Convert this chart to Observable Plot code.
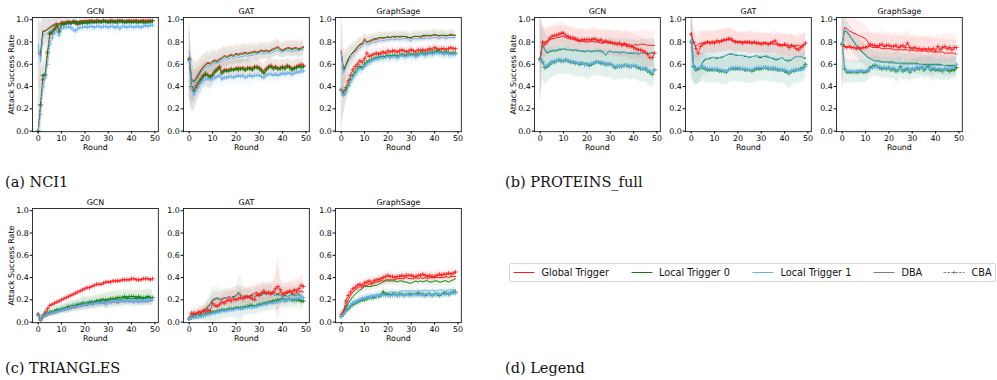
<!DOCTYPE html>
<html><head><meta charset="utf-8">
<script src="https://cdn.jsdelivr.net/npm/d3@7"></script>
<script src="https://cdn.jsdelivr.net/npm/@observablehq/plot@0.6"></script>
<style>
body{margin:0;background:#fff;}
#root{position:relative;width:997px;height:380px;overflow:hidden;font-family:"DejaVu Sans",sans-serif;}
.cap{position:absolute;font-family:"DejaVu Serif",serif;font-size:14.5px;color:#111;white-space:nowrap;line-height:16px;}
#legend{position:absolute;left:509px;top:263px;width:485px;height:17px;border:1px solid #d4d4d4;border-radius:2px;background:#fff;}
.li{position:absolute;top:0;height:17px;font-size:9.7px;line-height:17px;color:#111;white-space:nowrap;}
.li svg{position:absolute;top:0;left:0;}
</style>
</head><body><div id="root"></div>
<script>
// ---------------- data ----------------
const rounds = d3.range(0, 50);
const seriesNames = ["Global Trigger", "Local Trigger 0", "Local Trigger 1"];
const methodNames = ["DBA", "CBA"];
const datasetCaptions = ["(a) NCI1", "(b) PROTEINS_full", "(c) TRIANGLES", "(d) Legend"];
const modelTitles = ["GCN", "GAT", "GraphSage"];
const xTicks = [0, 10, 20, 30, 40, 50];
const yTicks = [0, 0.2, 0.4, 0.6, 0.8, 1.0];

// NCI1 - GCN
const nciGcnDbaG = [0.70,0.67,0.90,0.90,0.92,0.93,0.95,0.96,0.97,0.96,0.98,0.98,0.98,0.99,0.98,0.99,0.99,0.98,0.99,0.99,0.99,0.99,1.00,0.99,0.99,1.00,0.99,0.99,1.00,0.99,0.99,1.00,0.99,0.99,1.00,0.99,1.00,0.99,0.99,1.00,0.99,0.99,1.00,0.99,0.99,1.00,0.99,0.99,1.00,0.99];
const nciGcnDbaL0 = [0.72,0.70,0.89,0.90,0.91,0.93,0.94,0.95,0.96,0.96,0.97,0.97,0.98,0.98,0.98,0.98,0.99,0.98,0.98,0.99,0.98,0.99,0.99,0.99,0.98,0.99,0.99,0.99,0.99,0.98,0.99,0.99,0.99,0.99,0.99,0.98,0.99,0.99,0.99,0.99,0.98,0.99,0.99,0.99,0.99,0.98,0.99,0.99,0.99,0.99];
const nciGcnDbaL1 = [0.78,0.62,0.85,0.87,0.88,0.90,0.91,0.93,0.94,0.93,0.95,0.95,0.96,0.96,0.96,0.97,0.96,0.95,0.96,0.97,0.97,0.97,0.96,0.97,0.97,0.97,0.98,0.97,0.97,0.98,0.97,0.97,0.98,0.97,0.96,0.97,0.98,0.97,0.97,0.98,0.97,0.98,0.97,0.97,0.98,0.97,0.97,0.98,0.97,0.97];
const nciGcnCbaG = [0.00,0.23,0.46,0.50,0.71,0.87,0.88,0.92,0.94,0.90,0.97,0.96,0.97,0.98,0.97,0.98,0.97,0.96,0.98,0.97,0.98,0.98,0.98,0.99,0.98,0.99,0.99,0.98,0.99,0.99,0.98,0.99,0.99,0.98,0.99,0.99,0.99,0.98,0.99,0.99,0.99,0.99,0.99,0.98,0.99,0.99,0.99,0.99,0.99,0.99];
const nciGcnCbaL0 = [0.00,0.24,0.50,0.51,0.70,0.88,0.89,0.91,0.95,0.89,0.96,0.96,0.97,0.97,0.97,0.98,0.97,0.97,0.97,0.97,0.98,0.97,0.98,0.98,0.98,0.98,0.98,0.98,0.99,0.98,0.98,0.98,0.98,0.98,0.98,0.99,0.98,0.98,0.98,0.98,0.98,0.98,0.98,0.98,0.98,0.98,0.97,0.98,0.98,0.99];
const nciGcnCbaL1 = [0.00,0.15,0.40,0.48,0.60,0.78,0.84,0.88,0.90,0.86,0.92,0.93,0.93,0.94,0.93,0.91,0.90,0.92,0.93,0.93,0.94,0.93,0.94,0.94,0.93,0.94,0.94,0.93,0.94,0.94,0.93,0.94,0.94,0.93,0.94,0.92,0.94,0.94,0.93,0.94,0.94,0.93,0.94,0.94,0.93,0.94,0.95,0.94,0.95,0.95];
const nciGcnSdG = [0.32,0.28,0.14,0.12,0.10,0.08,0.06,0.05,0.05,0.05,0.03,0.03,0.03,0.02,0.02,0.02,0.02,0.02,0.02,0.02,0.02,0.02,0.01,0.01,0.01,0.01,0.01,0.01,0.01,0.01,0.01,0.01,0.01,0.01,0.01,0.01,0.01,0.01,0.01,0.01,0.01,0.01,0.01,0.01,0.01,0.01,0.01,0.01,0.01,0.01];
const nciGcnSdL0 = [0.32,0.27,0.15,0.13,0.10,0.08,0.07,0.05,0.05,0.05,0.03,0.03,0.03,0.02,0.02,0.02,0.02,0.02,0.02,0.02,0.02,0.02,0.02,0.02,0.02,0.02,0.02,0.02,0.01,0.02,0.02,0.02,0.02,0.02,0.02,0.01,0.02,0.02,0.02,0.02,0.02,0.02,0.02,0.02,0.02,0.02,0.02,0.02,0.02,0.01];
const nciGcnSdL1 = [0.33,0.28,0.18,0.15,0.12,0.10,0.09,0.08,0.08,0.08,0.06,0.06,0.05,0.05,0.05,0.06,0.07,0.06,0.05,0.05,0.05,0.05,0.05,0.05,0.05,0.05,0.04,0.05,0.05,0.04,0.05,0.05,0.04,0.06,0.06,0.05,0.04,0.05,0.05,0.04,0.05,0.04,0.05,0.05,0.04,0.05,0.04,0.04,0.04,0.04];

// NCI1 - GAT
const nciGatDbaG = [0.65,0.47,0.45,0.48,0.52,0.55,0.58,0.60,0.62,0.61,0.63,0.64,0.63,0.65,0.66,0.68,0.67,0.68,0.69,0.68,0.70,0.69,0.70,0.70,0.71,0.70,0.71,0.71,0.72,0.71,0.72,0.73,0.72,0.73,0.72,0.73,0.74,0.75,0.76,0.74,0.73,0.74,0.75,0.75,0.74,0.75,0.75,0.74,0.75,0.76];
const nciGatDbaL0 = [0.66,0.46,0.44,0.47,0.50,0.54,0.57,0.59,0.61,0.60,0.62,0.63,0.62,0.64,0.65,0.67,0.66,0.67,0.68,0.67,0.69,0.68,0.69,0.69,0.70,0.69,0.70,0.70,0.71,0.70,0.71,0.72,0.71,0.72,0.71,0.72,0.73,0.74,0.75,0.73,0.72,0.73,0.74,0.74,0.73,0.74,0.74,0.73,0.74,0.75];
const nciGatDbaL1 = [0.72,0.45,0.42,0.45,0.48,0.52,0.55,0.57,0.59,0.58,0.60,0.61,0.61,0.62,0.63,0.65,0.64,0.65,0.66,0.65,0.67,0.66,0.67,0.67,0.68,0.67,0.68,0.68,0.69,0.69,0.70,0.70,0.69,0.70,0.70,0.70,0.71,0.72,0.73,0.71,0.71,0.72,0.72,0.72,0.71,0.72,0.72,0.72,0.73,0.73];
const nciGatCbaG = [0.65,0.40,0.37,0.41,0.44,0.47,0.50,0.52,0.50,0.49,0.51,0.54,0.56,0.58,0.53,0.55,0.55,0.55,0.56,0.55,0.56,0.57,0.56,0.57,0.55,0.57,0.57,0.56,0.58,0.58,0.57,0.55,0.53,0.56,0.58,0.59,0.57,0.58,0.56,0.57,0.58,0.57,0.59,0.58,0.56,0.57,0.58,0.59,0.60,0.59];
const nciGatCbaL0 = [0.64,0.40,0.36,0.39,0.43,0.46,0.49,0.51,0.50,0.48,0.50,0.53,0.55,0.57,0.52,0.54,0.54,0.54,0.55,0.55,0.56,0.55,0.56,0.56,0.55,0.56,0.56,0.55,0.57,0.57,0.56,0.54,0.52,0.55,0.57,0.58,0.56,0.57,0.56,0.56,0.57,0.56,0.58,0.57,0.55,0.56,0.57,0.58,0.57,0.58];
const nciGatCbaL1 = [0.63,0.38,0.33,0.37,0.40,0.43,0.45,0.47,0.47,0.46,0.47,0.48,0.49,0.50,0.47,0.48,0.48,0.49,0.49,0.48,0.49,0.50,0.49,0.50,0.48,0.49,0.50,0.49,0.50,0.50,0.50,0.49,0.48,0.50,0.51,0.51,0.50,0.51,0.50,0.51,0.52,0.51,0.52,0.52,0.51,0.52,0.53,0.53,0.54,0.54];
const nciGatSdG = [0.35,0.22,0.18,0.15,0.13,0.12,0.11,0.11,0.10,0.10,0.10,0.10,0.09,0.09,0.09,0.09,0.09,0.09,0.08,0.08,0.08,0.08,0.08,0.08,0.08,0.08,0.08,0.07,0.07,0.07,0.08,0.07,0.07,0.07,0.07,0.07,0.07,0.07,0.08,0.07,0.07,0.07,0.07,0.07,0.07,0.07,0.07,0.07,0.07,0.07];
const nciGatSdL0 = [0.34,0.22,0.18,0.15,0.13,0.12,0.11,0.11,0.10,0.10,0.10,0.09,0.09,0.09,0.09,0.09,0.08,0.08,0.08,0.08,0.08,0.08,0.08,0.08,0.08,0.08,0.07,0.07,0.07,0.07,0.07,0.07,0.07,0.07,0.07,0.07,0.07,0.07,0.07,0.07,0.07,0.07,0.07,0.07,0.07,0.07,0.07,0.07,0.07,0.07];
const nciGatSdL1 = [0.30,0.18,0.15,0.13,0.12,0.11,0.10,0.10,0.09,0.09,0.09,0.09,0.08,0.08,0.08,0.08,0.08,0.08,0.07,0.07,0.07,0.07,0.07,0.07,0.07,0.07,0.07,0.07,0.06,0.06,0.06,0.06,0.06,0.06,0.06,0.06,0.06,0.06,0.06,0.06,0.06,0.06,0.06,0.06,0.06,0.06,0.06,0.06,0.06,0.06];

// NCI1 - GraphSage
const nciSageDbaG = [0.72,0.55,0.60,0.65,0.68,0.70,0.72,0.75,0.77,0.78,0.83,0.80,0.80,0.81,0.82,0.82,0.83,0.84,0.83,0.84,0.84,0.84,0.85,0.84,0.85,0.84,0.85,0.85,0.84,0.84,0.83,0.85,0.85,0.85,0.84,0.85,0.85,0.86,0.85,0.86,0.86,0.86,0.85,0.86,0.86,0.85,0.86,0.86,0.86,0.86];
const nciSageDbaL0 = [0.70,0.54,0.59,0.64,0.68,0.71,0.73,0.76,0.78,0.79,0.81,0.80,0.81,0.82,0.83,0.83,0.84,0.84,0.84,0.84,0.85,0.84,0.85,0.85,0.85,0.85,0.85,0.85,0.85,0.84,0.84,0.85,0.85,0.85,0.85,0.86,0.86,0.86,0.86,0.86,0.87,0.86,0.86,0.86,0.86,0.86,0.86,0.87,0.86,0.86];
const nciSageDbaL1 = [0.70,0.52,0.57,0.62,0.65,0.68,0.70,0.73,0.75,0.76,0.79,0.78,0.78,0.79,0.80,0.80,0.81,0.82,0.81,0.82,0.82,0.82,0.83,0.82,0.83,0.82,0.83,0.83,0.83,0.82,0.81,0.83,0.83,0.83,0.83,0.83,0.83,0.84,0.83,0.84,0.84,0.84,0.83,0.84,0.84,0.83,0.84,0.84,0.84,0.84];
const nciSageCbaG = [0.37,0.35,0.39,0.45,0.50,0.55,0.58,0.60,0.63,0.62,0.65,0.70,0.67,0.68,0.69,0.70,0.69,0.70,0.71,0.70,0.72,0.71,0.72,0.72,0.71,0.72,0.73,0.72,0.71,0.72,0.73,0.72,0.71,0.73,0.72,0.73,0.72,0.73,0.74,0.73,0.75,0.74,0.73,0.74,0.74,0.73,0.74,0.75,0.74,0.74];
const nciSageCbaL0 = [0.37,0.33,0.37,0.41,0.46,0.50,0.53,0.56,0.58,0.57,0.60,0.62,0.63,0.64,0.65,0.66,0.66,0.67,0.67,0.67,0.68,0.67,0.68,0.68,0.67,0.68,0.69,0.68,0.68,0.69,0.69,0.69,0.68,0.69,0.70,0.70,0.69,0.70,0.71,0.70,0.71,0.72,0.71,0.71,0.70,0.71,0.70,0.70,0.70,0.70];
const nciSageCbaL1 = [0.37,0.32,0.35,0.40,0.44,0.48,0.51,0.54,0.56,0.56,0.58,0.60,0.62,0.63,0.64,0.65,0.65,0.66,0.66,0.66,0.67,0.66,0.67,0.67,0.66,0.67,0.68,0.67,0.67,0.68,0.68,0.68,0.67,0.68,0.69,0.69,0.68,0.69,0.70,0.69,0.70,0.70,0.70,0.70,0.69,0.70,0.69,0.69,0.69,0.69];
const nciSageSdG = [0.40,0.20,0.12,0.10,0.09,0.08,0.07,0.07,0.06,0.06,0.06,0.05,0.05,0.05,0.05,0.05,0.05,0.05,0.05,0.05,0.05,0.04,0.04,0.04,0.04,0.04,0.04,0.04,0.04,0.04,0.04,0.04,0.04,0.04,0.04,0.04,0.04,0.04,0.04,0.04,0.04,0.04,0.04,0.04,0.04,0.04,0.04,0.04,0.04,0.04];
const nciSageSdL0 = [0.40,0.18,0.12,0.10,0.09,0.08,0.08,0.07,0.07,0.06,0.06,0.06,0.06,0.05,0.05,0.05,0.05,0.05,0.05,0.05,0.05,0.05,0.05,0.05,0.05,0.05,0.05,0.05,0.05,0.05,0.05,0.05,0.05,0.05,0.05,0.05,0.05,0.05,0.05,0.05,0.05,0.05,0.05,0.05,0.05,0.05,0.05,0.05,0.05,0.05];
const nciSageSdL1 = [0.35,0.15,0.11,0.10,0.09,0.08,0.08,0.07,0.07,0.07,0.06,0.06,0.06,0.06,0.05,0.05,0.05,0.05,0.05,0.05,0.05,0.05,0.05,0.05,0.05,0.05,0.05,0.05,0.05,0.05,0.05,0.05,0.05,0.05,0.05,0.05,0.05,0.05,0.05,0.05,0.05,0.05,0.05,0.05,0.05,0.05,0.05,0.05,0.05,0.05];

// PROTEINS_full - GCN
const proGcnDbaG = [0.65,0.80,0.80,0.81,0.82,0.83,0.83,0.84,0.84,0.85,0.85,0.84,0.83,0.83,0.82,0.82,0.81,0.81,0.81,0.80,0.80,0.80,0.81,0.80,0.80,0.80,0.79,0.79,0.80,0.79,0.79,0.79,0.78,0.79,0.78,0.78,0.79,0.78,0.78,0.77,0.77,0.78,0.77,0.78,0.78,0.78,0.77,0.77,0.77,0.77];
const proGcnDbaL0 = [0.65,0.78,0.73,0.70,0.71,0.72,0.72,0.72,0.73,0.73,0.74,0.73,0.73,0.73,0.72,0.73,0.72,0.72,0.72,0.71,0.72,0.72,0.71,0.72,0.72,0.72,0.72,0.71,0.68,0.71,0.72,0.71,0.71,0.71,0.70,0.71,0.71,0.70,0.70,0.70,0.70,0.70,0.69,0.70,0.70,0.70,0.69,0.70,0.70,0.70];
const proGcnDbaL1 = [0.66,0.80,0.74,0.71,0.72,0.73,0.73,0.73,0.74,0.74,0.74,0.74,0.73,0.73,0.73,0.73,0.73,0.72,0.72,0.72,0.72,0.72,0.72,0.72,0.72,0.72,0.71,0.71,0.69,0.71,0.72,0.71,0.71,0.71,0.71,0.71,0.71,0.70,0.70,0.71,0.70,0.70,0.70,0.70,0.70,0.70,0.70,0.70,0.71,0.70];
const proGcnCbaG = [0.64,0.80,0.78,0.80,0.83,0.85,0.86,0.86,0.87,0.88,0.88,0.86,0.85,0.84,0.84,0.83,0.82,0.81,0.82,0.82,0.82,0.82,0.82,0.83,0.82,0.81,0.82,0.80,0.81,0.80,0.80,0.79,0.79,0.78,0.79,0.77,0.78,0.77,0.76,0.76,0.75,0.74,0.73,0.73,0.72,0.71,0.69,0.66,0.66,0.70];
const proGcnCbaL0 = [0.65,0.62,0.57,0.58,0.60,0.62,0.62,0.63,0.64,0.63,0.63,0.64,0.63,0.62,0.62,0.61,0.61,0.60,0.61,0.60,0.60,0.59,0.60,0.61,0.62,0.62,0.61,0.61,0.60,0.60,0.60,0.59,0.57,0.58,0.58,0.58,0.59,0.59,0.58,0.58,0.59,0.58,0.57,0.56,0.56,0.56,0.54,0.53,0.51,0.55];
const proGcnCbaL1 = [0.64,0.63,0.58,0.59,0.61,0.62,0.63,0.63,0.64,0.64,0.63,0.64,0.63,0.63,0.62,0.62,0.61,0.61,0.61,0.60,0.60,0.60,0.61,0.61,0.62,0.62,0.62,0.61,0.60,0.61,0.60,0.59,0.58,0.58,0.59,0.58,0.59,0.59,0.59,0.58,0.59,0.58,0.58,0.57,0.56,0.57,0.55,0.54,0.52,0.55];
const proGcnSdG = [0.40,0.14,0.13,0.12,0.11,0.11,0.10,0.10,0.10,0.10,0.10,0.10,0.10,0.10,0.10,0.10,0.10,0.10,0.11,0.10,0.10,0.10,0.10,0.11,0.11,0.10,0.11,0.11,0.10,0.11,0.11,0.11,0.11,0.11,0.12,0.11,0.11,0.12,0.12,0.12,0.12,0.12,0.12,0.12,0.13,0.13,0.13,0.13,0.13,0.13];
const proGcnSdL0 = [0.40,0.17,0.16,0.15,0.14,0.14,0.13,0.13,0.13,0.13,0.13,0.13,0.13,0.12,0.12,0.13,0.13,0.12,0.12,0.12,0.13,0.13,0.12,0.12,0.12,0.12,0.12,0.12,0.13,0.12,0.12,0.12,0.12,0.12,0.12,0.12,0.12,0.12,0.12,0.12,0.12,0.12,0.12,0.12,0.12,0.12,0.13,0.13,0.13,0.13];
const proGcnSdL1 = [0.38,0.16,0.15,0.14,0.14,0.13,0.13,0.13,0.12,0.12,0.12,0.12,0.12,0.12,0.12,0.12,0.12,0.12,0.12,0.12,0.12,0.12,0.12,0.12,0.12,0.12,0.12,0.12,0.12,0.12,0.12,0.12,0.12,0.12,0.12,0.12,0.12,0.12,0.12,0.12,0.12,0.12,0.12,0.12,0.12,0.12,0.12,0.12,0.12,0.12];

// PROTEINS_full - GAT
const proGatDbaG = [0.87,0.80,0.76,0.78,0.79,0.79,0.80,0.80,0.80,0.79,0.80,0.80,0.81,0.81,0.81,0.82,0.82,0.82,0.81,0.81,0.80,0.80,0.80,0.80,0.79,0.79,0.80,0.79,0.79,0.79,0.79,0.79,0.79,0.78,0.79,0.78,0.78,0.78,0.78,0.77,0.77,0.77,0.77,0.77,0.76,0.77,0.77,0.76,0.77,0.79];
const proGatDbaL0 = [0.88,0.60,0.56,0.55,0.57,0.62,0.64,0.65,0.65,0.66,0.66,0.65,0.66,0.66,0.67,0.68,0.69,0.69,0.69,0.68,0.68,0.68,0.68,0.67,0.67,0.66,0.67,0.67,0.68,0.66,0.66,0.67,0.67,0.66,0.66,0.65,0.64,0.64,0.65,0.66,0.64,0.63,0.63,0.64,0.66,0.67,0.67,0.67,0.66,0.65];
const proGatDbaL1 = [0.88,0.61,0.57,0.55,0.58,0.63,0.65,0.65,0.66,0.66,0.66,0.66,0.66,0.67,0.67,0.68,0.69,0.70,0.69,0.69,0.68,0.68,0.68,0.68,0.67,0.67,0.67,0.67,0.68,0.67,0.67,0.67,0.68,0.67,0.66,0.66,0.65,0.65,0.65,0.66,0.64,0.64,0.64,0.64,0.66,0.67,0.67,0.67,0.66,0.66];
const proGatCbaG = [0.87,0.80,0.74,0.70,0.76,0.78,0.79,0.80,0.79,0.80,0.79,0.81,0.80,0.81,0.82,0.82,0.83,0.83,0.81,0.80,0.80,0.80,0.79,0.80,0.80,0.80,0.79,0.80,0.79,0.79,0.78,0.79,0.79,0.78,0.79,0.80,0.81,0.78,0.77,0.77,0.78,0.77,0.75,0.77,0.76,0.74,0.73,0.75,0.77,0.79];
const proGatCbaL0 = [0.80,0.58,0.55,0.56,0.57,0.57,0.56,0.55,0.55,0.55,0.55,0.55,0.54,0.54,0.54,0.53,0.55,0.56,0.56,0.56,0.56,0.56,0.56,0.55,0.55,0.55,0.54,0.55,0.56,0.56,0.56,0.57,0.57,0.56,0.56,0.56,0.56,0.55,0.55,0.55,0.54,0.53,0.52,0.54,0.54,0.55,0.55,0.56,0.57,0.60];
const proGatCbaL1 = [0.81,0.59,0.56,0.57,0.57,0.58,0.57,0.56,0.56,0.56,0.55,0.56,0.55,0.55,0.54,0.54,0.55,0.56,0.57,0.57,0.57,0.56,0.56,0.56,0.55,0.55,0.55,0.56,0.57,0.57,0.57,0.57,0.57,0.57,0.56,0.57,0.56,0.56,0.55,0.55,0.55,0.54,0.52,0.54,0.55,0.55,0.55,0.55,0.56,0.58];
const proGatSdG = [0.30,0.13,0.12,0.12,0.11,0.11,0.10,0.10,0.10,0.10,0.10,0.10,0.10,0.10,0.10,0.10,0.10,0.10,0.10,0.10,0.09,0.09,0.09,0.09,0.09,0.10,0.10,0.09,0.09,0.09,0.09,0.09,0.09,0.09,0.09,0.09,0.09,0.10,0.10,0.10,0.10,0.10,0.10,0.10,0.10,0.10,0.11,0.11,0.10,0.10];
const proGatSdL0 = [0.35,0.16,0.14,0.13,0.13,0.13,0.13,0.13,0.12,0.12,0.12,0.12,0.12,0.12,0.12,0.12,0.12,0.12,0.12,0.12,0.12,0.12,0.12,0.12,0.12,0.12,0.12,0.12,0.12,0.12,0.12,0.12,0.12,0.12,0.12,0.12,0.12,0.12,0.12,0.12,0.12,0.13,0.14,0.13,0.12,0.12,0.12,0.12,0.12,0.12];
const proGatSdL1 = [0.34,0.15,0.14,0.13,0.13,0.12,0.12,0.12,0.12,0.12,0.12,0.12,0.12,0.12,0.12,0.12,0.12,0.12,0.12,0.12,0.12,0.12,0.12,0.12,0.12,0.12,0.12,0.12,0.12,0.12,0.12,0.12,0.12,0.12,0.12,0.12,0.12,0.12,0.12,0.12,0.12,0.13,0.14,0.13,0.12,0.12,0.12,0.12,0.12,0.12];

// PROTEINS_full - GraphSage
const proSageDbaG = [0.78,0.93,0.92,0.90,0.89,0.88,0.87,0.86,0.85,0.84,0.83,0.80,0.76,0.75,0.75,0.75,0.75,0.74,0.74,0.74,0.74,0.74,0.73,0.73,0.73,0.73,0.73,0.73,0.73,0.72,0.73,0.72,0.72,0.72,0.72,0.72,0.72,0.71,0.72,0.71,0.71,0.71,0.71,0.71,0.70,0.70,0.70,0.70,0.70,0.69];
const proSageDbaL0 = [0.78,0.90,0.89,0.86,0.83,0.80,0.77,0.74,0.72,0.70,0.68,0.66,0.65,0.64,0.63,0.63,0.63,0.62,0.62,0.62,0.62,0.62,0.62,0.61,0.61,0.61,0.61,0.61,0.61,0.61,0.61,0.61,0.61,0.60,0.60,0.60,0.60,0.60,0.60,0.60,0.60,0.60,0.60,0.59,0.59,0.59,0.59,0.59,0.59,0.59];
const proSageDbaL1 = [0.79,0.91,0.90,0.87,0.84,0.81,0.78,0.75,0.73,0.71,0.69,0.67,0.65,0.64,0.63,0.63,0.62,0.62,0.62,0.62,0.61,0.61,0.61,0.61,0.61,0.61,0.60,0.60,0.60,0.60,0.60,0.60,0.60,0.60,0.60,0.59,0.59,0.59,0.59,0.59,0.59,0.59,0.59,0.59,0.59,0.58,0.58,0.58,0.58,0.58];
const proSageCbaG = [0.78,0.76,0.75,0.76,0.75,0.75,0.74,0.75,0.74,0.75,0.75,0.76,0.78,0.77,0.77,0.76,0.77,0.78,0.76,0.77,0.77,0.76,0.76,0.77,0.75,0.76,0.77,0.75,0.79,0.75,0.74,0.75,0.74,0.74,0.73,0.74,0.73,0.74,0.73,0.74,0.72,0.76,0.73,0.75,0.76,0.74,0.75,0.73,0.75,0.75];
const proSageCbaL0 = [0.78,0.56,0.53,0.53,0.53,0.53,0.53,0.53,0.54,0.53,0.53,0.54,0.57,0.58,0.59,0.58,0.57,0.56,0.57,0.56,0.57,0.55,0.56,0.54,0.55,0.58,0.54,0.55,0.56,0.53,0.56,0.55,0.57,0.56,0.58,0.55,0.57,0.58,0.55,0.56,0.55,0.55,0.55,0.54,0.56,0.55,0.54,0.55,0.55,0.57];
const proSageCbaL1 = [0.79,0.58,0.54,0.54,0.54,0.53,0.54,0.54,0.54,0.54,0.54,0.55,0.56,0.57,0.58,0.58,0.58,0.57,0.57,0.57,0.57,0.56,0.57,0.55,0.55,0.57,0.55,0.56,0.57,0.54,0.56,0.56,0.57,0.57,0.58,0.56,0.57,0.57,0.56,0.57,0.56,0.56,0.56,0.55,0.56,0.56,0.56,0.57,0.58,0.60];
const proSageSdG = [0.40,0.13,0.13,0.13,0.13,0.13,0.13,0.13,0.13,0.13,0.13,0.12,0.12,0.12,0.12,0.12,0.12,0.12,0.12,0.12,0.12,0.12,0.12,0.12,0.12,0.12,0.12,0.12,0.12,0.12,0.12,0.12,0.12,0.12,0.12,0.12,0.12,0.12,0.12,0.12,0.12,0.12,0.12,0.12,0.12,0.12,0.12,0.12,0.12,0.12];
const proSageSdL0 = [0.40,0.14,0.10,0.10,0.10,0.10,0.10,0.10,0.10,0.10,0.10,0.09,0.09,0.09,0.09,0.09,0.09,0.09,0.09,0.09,0.09,0.09,0.09,0.10,0.11,0.09,0.09,0.09,0.09,0.10,0.09,0.09,0.09,0.09,0.09,0.09,0.09,0.09,0.10,0.11,0.09,0.09,0.09,0.09,0.10,0.09,0.09,0.09,0.09,0.09];
const proSageSdL1 = [0.38,0.13,0.10,0.10,0.10,0.10,0.10,0.10,0.10,0.10,0.10,0.09,0.09,0.09,0.09,0.09,0.09,0.09,0.09,0.09,0.09,0.09,0.09,0.10,0.10,0.09,0.09,0.09,0.09,0.10,0.09,0.09,0.09,0.09,0.09,0.09,0.09,0.09,0.10,0.10,0.09,0.09,0.09,0.09,0.10,0.09,0.09,0.09,0.09,0.09];

// TRIANGLES - GCN
const triGcnDbaG = [0.07,0.01,0.04,0.05,0.06,0.07,0.08,0.08,0.09,0.10,0.10,0.11,0.11,0.12,0.12,0.13,0.13,0.14,0.14,0.15,0.15,0.15,0.16,0.16,0.16,0.17,0.17,0.17,0.17,0.17,0.18,0.17,0.18,0.18,0.17,0.18,0.19,0.18,0.19,0.18,0.19,0.18,0.19,0.19,0.18,0.19,0.18,0.19,0.19,0.20];
const triGcnDbaL0 = [0.07,0.02,0.05,0.06,0.07,0.08,0.09,0.09,0.10,0.11,0.11,0.12,0.12,0.13,0.13,0.14,0.14,0.15,0.15,0.16,0.16,0.16,0.17,0.17,0.17,0.18,0.18,0.18,0.19,0.19,0.19,0.19,0.20,0.20,0.20,0.20,0.20,0.21,0.21,0.21,0.21,0.21,0.21,0.21,0.21,0.21,0.21,0.22,0.22,0.22];
const triGcnDbaL1 = [0.06,0.02,0.05,0.06,0.07,0.08,0.08,0.09,0.10,0.10,0.11,0.12,0.12,0.13,0.13,0.14,0.14,0.15,0.15,0.15,0.16,0.16,0.16,0.17,0.17,0.17,0.18,0.18,0.18,0.18,0.19,0.19,0.19,0.19,0.20,0.19,0.20,0.20,0.20,0.20,0.20,0.20,0.20,0.20,0.21,0.20,0.21,0.21,0.21,0.21];
const triGcnCbaG = [0.07,0.02,0.06,0.09,0.12,0.15,0.16,0.17,0.18,0.19,0.20,0.21,0.22,0.23,0.24,0.25,0.26,0.27,0.28,0.29,0.30,0.31,0.31,0.32,0.33,0.34,0.34,0.34,0.35,0.36,0.36,0.36,0.37,0.37,0.37,0.37,0.38,0.38,0.38,0.38,0.39,0.39,0.38,0.38,0.38,0.39,0.39,0.39,0.38,0.39];
const triGcnCbaL0 = [0.07,0.02,0.05,0.07,0.08,0.09,0.09,0.10,0.11,0.11,0.12,0.12,0.13,0.14,0.14,0.15,0.15,0.16,0.16,0.17,0.17,0.17,0.18,0.18,0.18,0.19,0.19,0.20,0.20,0.20,0.20,0.21,0.21,0.21,0.22,0.22,0.22,0.23,0.22,0.23,0.23,0.23,0.22,0.23,0.22,0.22,0.22,0.23,0.22,0.22];
const triGcnCbaL1 = [0.06,0.02,0.05,0.06,0.07,0.08,0.08,0.09,0.09,0.10,0.11,0.11,0.12,0.12,0.13,0.14,0.14,0.14,0.15,0.15,0.16,0.16,0.16,0.16,0.17,0.17,0.17,0.17,0.18,0.16,0.18,0.18,0.19,0.19,0.18,0.19,0.19,0.19,0.19,0.19,0.19,0.18,0.19,0.18,0.19,0.19,0.19,0.19,0.20,0.20];
const triGcnSdG = [0.03,0.02,0.02,0.02,0.02,0.02,0.02,0.02,0.02,0.02,0.02,0.02,0.02,0.02,0.02,0.02,0.02,0.02,0.02,0.02,0.02,0.02,0.02,0.02,0.02,0.02,0.02,0.02,0.02,0.02,0.02,0.02,0.02,0.02,0.02,0.02,0.02,0.02,0.02,0.02,0.02,0.02,0.02,0.02,0.02,0.02,0.02,0.02,0.02,0.02];
const triGcnSdL0 = [0.03,0.02,0.02,0.03,0.03,0.03,0.03,0.04,0.04,0.04,0.04,0.04,0.05,0.05,0.05,0.05,0.05,0.05,0.05,0.06,0.06,0.06,0.06,0.06,0.06,0.06,0.06,0.06,0.06,0.07,0.07,0.07,0.07,0.07,0.07,0.07,0.07,0.07,0.07,0.07,0.07,0.07,0.07,0.07,0.07,0.07,0.07,0.07,0.07,0.07];
const triGcnSdL1 = [0.03,0.02,0.02,0.02,0.03,0.03,0.03,0.03,0.03,0.03,0.03,0.03,0.04,0.04,0.04,0.04,0.04,0.04,0.04,0.04,0.04,0.04,0.04,0.04,0.04,0.04,0.04,0.04,0.04,0.05,0.04,0.04,0.04,0.04,0.04,0.04,0.04,0.04,0.04,0.04,0.04,0.04,0.04,0.04,0.04,0.04,0.04,0.04,0.04,0.04];

// TRIANGLES - GAT
const triGatDbaG = [0.03,0.07,0.07,0.08,0.09,0.10,0.11,0.12,0.14,0.16,0.19,0.20,0.21,0.20,0.21,0.22,0.22,0.23,0.22,0.23,0.24,0.25,0.24,0.23,0.24,0.23,0.24,0.25,0.26,0.27,0.25,0.26,0.27,0.26,0.25,0.26,0.27,0.26,0.25,0.27,0.26,0.25,0.26,0.27,0.26,0.25,0.26,0.27,0.28,0.27];
const triGatDbaL0 = [0.04,0.06,0.06,0.07,0.07,0.08,0.09,0.11,0.14,0.16,0.20,0.21,0.22,0.21,0.20,0.21,0.22,0.21,0.22,0.23,0.23,0.27,0.25,0.23,0.23,0.22,0.23,0.24,0.23,0.24,0.24,0.25,0.26,0.25,0.26,0.27,0.25,0.24,0.25,0.24,0.23,0.24,0.23,0.24,0.25,0.24,0.24,0.25,0.23,0.21];
const triGatDbaL1 = [0.04,0.06,0.06,0.06,0.07,0.08,0.09,0.10,0.13,0.15,0.19,0.20,0.21,0.20,0.20,0.21,0.22,0.21,0.22,0.22,0.23,0.26,0.25,0.23,0.22,0.22,0.22,0.23,0.23,0.24,0.23,0.24,0.25,0.25,0.26,0.26,0.25,0.24,0.24,0.24,0.23,0.23,0.23,0.24,0.24,0.23,0.24,0.24,0.23,0.22];
const triGatCbaG = [0.03,0.08,0.08,0.07,0.09,0.08,0.10,0.09,0.11,0.10,0.17,0.15,0.14,0.16,0.18,0.17,0.19,0.20,0.19,0.21,0.20,0.21,0.22,0.21,0.22,0.23,0.22,0.21,0.20,0.25,0.24,0.26,0.28,0.26,0.27,0.25,0.27,0.30,0.32,0.29,0.25,0.26,0.27,0.28,0.27,0.29,0.28,0.30,0.33,0.32];
const triGatCbaL0 = [0.03,0.04,0.05,0.05,0.05,0.06,0.06,0.07,0.08,0.08,0.09,0.09,0.10,0.10,0.11,0.11,0.11,0.12,0.12,0.12,0.13,0.13,0.13,0.13,0.14,0.14,0.15,0.15,0.14,0.15,0.16,0.16,0.17,0.17,0.18,0.18,0.19,0.19,0.20,0.20,0.21,0.20,0.20,0.21,0.20,0.20,0.20,0.20,0.19,0.19];
const triGatCbaL1 = [0.03,0.04,0.04,0.05,0.05,0.05,0.06,0.06,0.07,0.07,0.08,0.08,0.09,0.09,0.10,0.10,0.10,0.11,0.11,0.11,0.12,0.12,0.12,0.12,0.13,0.13,0.13,0.13,0.14,0.14,0.15,0.15,0.16,0.16,0.17,0.17,0.17,0.18,0.18,0.19,0.20,0.19,0.20,0.20,0.21,0.21,0.21,0.22,0.22,0.22];
const triGatSdG = [0.02,0.04,0.04,0.04,0.04,0.05,0.05,0.05,0.06,0.06,0.07,0.07,0.07,0.07,0.07,0.08,0.08,0.08,0.08,0.08,0.08,0.08,0.08,0.08,0.08,0.08,0.08,0.08,0.08,0.09,0.09,0.09,0.09,0.09,0.09,0.09,0.10,0.12,0.28,0.12,0.09,0.09,0.09,0.09,0.09,0.09,0.10,0.10,0.10,0.10];
const triGatSdL0 = [0.02,0.03,0.04,0.04,0.04,0.04,0.05,0.06,0.08,0.10,0.12,0.10,0.09,0.10,0.09,0.08,0.08,0.08,0.08,0.08,0.09,0.12,0.18,0.10,0.08,0.08,0.08,0.08,0.08,0.08,0.08,0.08,0.08,0.08,0.08,0.08,0.08,0.08,0.09,0.08,0.08,0.08,0.08,0.08,0.08,0.08,0.08,0.08,0.08,0.08];
const triGatSdL1 = [0.02,0.03,0.03,0.03,0.04,0.04,0.04,0.05,0.06,0.06,0.07,0.07,0.06,0.06,0.06,0.06,0.06,0.06,0.06,0.06,0.06,0.07,0.08,0.06,0.06,0.06,0.06,0.06,0.06,0.06,0.06,0.06,0.06,0.06,0.06,0.06,0.06,0.06,0.08,0.06,0.06,0.06,0.06,0.06,0.06,0.06,0.06,0.06,0.06,0.06];

// TRIANGLES - GraphSage
const triSageDbaG = [0.07,0.09,0.15,0.20,0.24,0.27,0.29,0.30,0.32,0.31,0.33,0.33,0.34,0.34,0.35,0.36,0.36,0.37,0.37,0.38,0.38,0.38,0.38,0.38,0.39,0.39,0.39,0.39,0.40,0.39,0.39,0.39,0.40,0.39,0.40,0.39,0.40,0.39,0.40,0.40,0.40,0.40,0.40,0.40,0.40,0.41,0.40,0.41,0.41,0.41];
const triSageDbaL0 = [0.06,0.08,0.13,0.17,0.20,0.23,0.25,0.27,0.29,0.30,0.32,0.32,0.32,0.32,0.33,0.33,0.34,0.35,0.36,0.37,0.37,0.37,0.37,0.37,0.36,0.37,0.37,0.36,0.36,0.35,0.35,0.36,0.37,0.36,0.37,0.36,0.37,0.37,0.36,0.36,0.37,0.37,0.36,0.36,0.37,0.37,0.36,0.37,0.38,0.39];
const triSageDbaL1 = [0.06,0.08,0.11,0.14,0.16,0.18,0.19,0.20,0.21,0.22,0.22,0.23,0.23,0.24,0.24,0.25,0.25,0.25,0.26,0.26,0.26,0.27,0.27,0.27,0.27,0.27,0.28,0.28,0.28,0.28,0.28,0.28,0.28,0.28,0.28,0.28,0.29,0.28,0.28,0.29,0.28,0.28,0.29,0.29,0.28,0.28,0.29,0.29,0.29,0.29];
const triSageCbaG = [0.07,0.10,0.19,0.24,0.27,0.30,0.31,0.33,0.34,0.33,0.35,0.36,0.37,0.35,0.37,0.38,0.38,0.39,0.40,0.41,0.42,0.41,0.41,0.40,0.41,0.41,0.42,0.41,0.42,0.42,0.42,0.41,0.41,0.42,0.42,0.43,0.42,0.41,0.42,0.41,0.41,0.42,0.43,0.42,0.43,0.43,0.44,0.43,0.44,0.45];
const triSageCbaL0 = [0.05,0.07,0.10,0.12,0.14,0.16,0.17,0.18,0.19,0.20,0.20,0.21,0.22,0.22,0.22,0.23,0.23,0.24,0.27,0.25,0.25,0.24,0.25,0.25,0.24,0.25,0.25,0.24,0.25,0.25,0.25,0.25,0.25,0.26,0.25,0.25,0.24,0.25,0.25,0.24,0.25,0.25,0.24,0.25,0.26,0.26,0.25,0.26,0.27,0.27];
const triSageCbaL1 = [0.05,0.07,0.10,0.13,0.15,0.17,0.18,0.19,0.20,0.21,0.21,0.22,0.22,0.23,0.23,0.23,0.24,0.24,0.24,0.24,0.24,0.24,0.24,0.25,0.24,0.24,0.25,0.24,0.25,0.24,0.24,0.25,0.25,0.24,0.25,0.24,0.25,0.25,0.25,0.24,0.25,0.25,0.25,0.25,0.25,0.25,0.26,0.26,0.26,0.26];
const triSageSdG = [0.02,0.03,0.04,0.04,0.04,0.04,0.04,0.04,0.04,0.04,0.04,0.04,0.04,0.04,0.04,0.04,0.04,0.04,0.04,0.04,0.04,0.04,0.04,0.04,0.04,0.04,0.04,0.04,0.04,0.04,0.04,0.04,0.04,0.04,0.04,0.04,0.04,0.04,0.04,0.04,0.04,0.04,0.04,0.04,0.04,0.04,0.04,0.04,0.04,0.04];
const triSageSdL0 = [0.02,0.03,0.03,0.04,0.04,0.04,0.04,0.04,0.04,0.04,0.04,0.04,0.04,0.04,0.04,0.04,0.04,0.04,0.04,0.04,0.04,0.04,0.04,0.04,0.04,0.04,0.04,0.04,0.04,0.04,0.04,0.04,0.04,0.04,0.04,0.04,0.04,0.04,0.04,0.04,0.04,0.04,0.04,0.04,0.04,0.04,0.04,0.04,0.04,0.04];
const triSageSdL1 = [0.02,0.02,0.03,0.03,0.03,0.03,0.03,0.03,0.03,0.03,0.03,0.03,0.03,0.03,0.03,0.03,0.03,0.03,0.03,0.03,0.03,0.03,0.03,0.03,0.03,0.03,0.03,0.03,0.03,0.03,0.03,0.03,0.03,0.03,0.03,0.03,0.03,0.03,0.03,0.03,0.03,0.03,0.03,0.03,0.03,0.03,0.03,0.03,0.03,0.03];

// ---------------- layout / style ----------------
const COLORS = {G: "#ff1a1a", L0: "#0a800a", L1: "#66b0f0"};
const FW = 125.8, FH = 114.2, ML = 40, MR = 10, MT = 18, MB = 24;
const colLeft = [[32, 183.4, 335], [533.6, 685.3, 836]];
const rowTop = [17.1, 207.5];

const panels = [
  {group: 0, row: 0, col: 0, title: modelTitles[0], dba: [nciGcnDbaG, nciGcnDbaL0, nciGcnDbaL1], cba: [nciGcnCbaG, nciGcnCbaL0, nciGcnCbaL1], sd: [nciGcnSdG, nciGcnSdL0, nciGcnSdL1]},
  {group: 0, row: 0, col: 1, title: modelTitles[1], dba: [nciGatDbaG, nciGatDbaL0, nciGatDbaL1], cba: [nciGatCbaG, nciGatCbaL0, nciGatCbaL1], sd: [nciGatSdG, nciGatSdL0, nciGatSdL1]},
  {group: 0, row: 0, col: 2, title: modelTitles[2], dba: [nciSageDbaG, nciSageDbaL0, nciSageDbaL1], cba: [nciSageCbaG, nciSageCbaL0, nciSageCbaL1], sd: [nciSageSdG, nciSageSdL0, nciSageSdL1]},
  {group: 1, row: 0, col: 0, title: modelTitles[0], dba: [proGcnDbaG, proGcnDbaL0, proGcnDbaL1], cba: [proGcnCbaG, proGcnCbaL0, proGcnCbaL1], sd: [proGcnSdG, proGcnSdL0, proGcnSdL1]},
  {group: 1, row: 0, col: 1, title: modelTitles[1], dba: [proGatDbaG, proGatDbaL0, proGatDbaL1], cba: [proGatCbaG, proGatCbaL0, proGatCbaL1], sd: [proGatSdG, proGatSdL0, proGatSdL1]},
  {group: 1, row: 0, col: 2, title: modelTitles[2], dba: [proSageDbaG, proSageDbaL0, proSageDbaL1], cba: [proSageCbaG, proSageCbaL0, proSageCbaL1], sd: [proSageSdG, proSageSdL0, proSageSdL1]},
  {group: 0, row: 1, col: 0, title: modelTitles[0], dba: [triGcnDbaG, triGcnDbaL0, triGcnDbaL1], cba: [triGcnCbaG, triGcnCbaL0, triGcnCbaL1], sd: [triGcnSdG, triGcnSdL0, triGcnSdL1]},
  {group: 0, row: 1, col: 1, title: modelTitles[1], dba: [triGatDbaG, triGatDbaL0, triGatDbaL1], cba: [triGatCbaG, triGatCbaL0, triGatCbaL1], sd: [triGatSdG, triGatSdL0, triGatSdL1]},
  {group: 0, row: 1, col: 2, title: modelTitles[2], dba: [triSageDbaG, triSageDbaL0, triSageDbaL1], cba: [triSageCbaG, triSageCbaL0, triSageCbaL1], sd: [triSageSdG, triSageSdL0, triSageSdL1]}
];

const root = document.getElementById("root");
const keys = ["G", "L0", "L1"];

function rowsOf(vals, sd) {
  return rounds.map((r, i) => ({r, v: vals[i], lo: vals[i] - sd[i], hi: vals[i] + sd[i]}));
}

for (const p of panels) {
  const marks = [];
  const dbaRows = p.dba.map((v, k) => rowsOf(v, p.sd[k]));
  const cbaRows = p.cba.map((v, k) => rowsOf(v, p.sd[k]));
  keys.forEach((k, i) => {
    marks.push(Plot.areaY(dbaRows[i], {x: "r", y1: "lo", y2: "hi", fill: COLORS[k], fillOpacity: 0.07, clip: true}));
    marks.push(Plot.areaY(cbaRows[i], {x: "r", y1: "lo", y2: "hi", fill: COLORS[k], fillOpacity: 0.07, clip: true}));
  });
  keys.forEach((k, i) => {
    marks.push(Plot.lineY(dbaRows[i], {x: "r", y: "v", stroke: COLORS[k], strokeWidth: 1}));
  });
  keys.forEach((k, i) => {
    marks.push(Plot.lineY(cbaRows[i], {x: "r", y: "v", stroke: COLORS[k], strokeWidth: 0.9, strokeDasharray: "2.6,1.3"}));
    marks.push(Plot.dot(cbaRows[i], {x: "r", y: "v", symbol: "plus", r: 1.5, stroke: COLORS[k], strokeWidth: 0.8}));
  });
  marks.push(Plot.frame({stroke: "#000", strokeWidth: 0.8}));
  marks.push(Plot.axisX({ticks: xTicks, tickFormat: d => String(d), tickSize: 2.3, tickPadding: 1.2, label: null}));
  marks.push(Plot.axisY({ticks: yTicks, tickFormat: d3.format(".1f"), tickSize: 2.3, tickPadding: 1.5, label: null}));
  marks.push(Plot.text([p.title], {frameAnchor: "top", lineAnchor: "middle", textAnchor: "middle", dy: -6, text: d => d}));
  marks.push(Plot.text(["Round"], {frameAnchor: "bottom", lineAnchor: "middle", textAnchor: "middle", dy: 15.7, text: d => d}));
  if (p.col === 0) {
    marks.push(Plot.text(["Attack Success Rate"], {frameAnchor: "left", lineAnchor: "middle", textAnchor: "middle", rotate: -90, dx: -21, text: d => d}));
  }
  const svg = Plot.plot({
    width: ML + FW + MR, height: MT + FH + MB,
    marginLeft: ML, marginRight: MR, marginTop: MT, marginBottom: MB,
    x: {domain: [-2.45, 51.45]},
    y: {domain: [-0.005, 1.02]},
    style: {fontFamily: "DejaVu Sans, sans-serif", fontSize: "7.9px", background: "transparent", overflow: "visible", color: "#000"},
    marks
  });
  svg.style.position = "absolute";
  svg.style.left = (colLeft[p.group][p.col] - ML) + "px";
  svg.style.top = (rowTop[p.row] - MT) + "px";
  root.appendChild(svg);
}

// captions
const capPos = [[5, 173.5], [505, 173.5], [5, 360], [505, 360]];
datasetCaptions.forEach((t, i) => {
  const d = document.createElement("div");
  d.className = "cap";
  d.textContent = t;
  d.style.left = capPos[i][0] + "px";
  d.style.top = capPos[i][1] + "px";
  root.appendChild(d);
});

// legend
const legend = document.createElement("div");
legend.id = "legend";
root.appendChild(legend);
const legendItems = [
  {label: seriesNames[0], color: COLORS.G, dash: null, marker: false, x: 3},
  {label: seriesNames[1], color: COLORS.L0, dash: null, marker: false, x: 120.5},
  {label: seriesNames[2], color: COLORS.L1, dash: null, marker: false, x: 242},
  {label: methodNames[0], color: "#808080", dash: null, marker: false, x: 363},
  {label: methodNames[1], color: "#808080", dash: "2.6,1.3", marker: true, x: 433}
];
for (const it of legendItems) {
  const el = document.createElement("div");
  el.className = "li";
  el.style.left = it.x + "px";
  el.style.width = "140px";
  const ns = "http://www.w3.org/2000/svg";
  const s = document.createElementNS(ns, "svg");
  s.setAttribute("width", "24"); s.setAttribute("height", "17");
  const ln = document.createElementNS(ns, "line");
  ln.setAttribute("x1", "0.5"); ln.setAttribute("x2", "21.5");
  ln.setAttribute("y1", "8.5"); ln.setAttribute("y2", "8.5");
  ln.setAttribute("stroke", it.color); ln.setAttribute("stroke-width", "1");
  if (it.dash) ln.setAttribute("stroke-dasharray", it.dash);
  s.appendChild(ln);
  if (it.marker) {
    const m = document.createElementNS(ns, "path");
    m.setAttribute("d", "M11,6.8V10.2M9.3,8.5H12.7");
    m.setAttribute("stroke", it.color); m.setAttribute("stroke-width", "0.9");
    s.appendChild(m);
  }
  el.appendChild(s);
  const tx = document.createElement("span");
  tx.textContent = it.label;
  tx.style.position = "absolute";
  tx.style.left = "28.5px";
  el.appendChild(tx);
  legend.appendChild(el);
}
</script>
</body></html>
